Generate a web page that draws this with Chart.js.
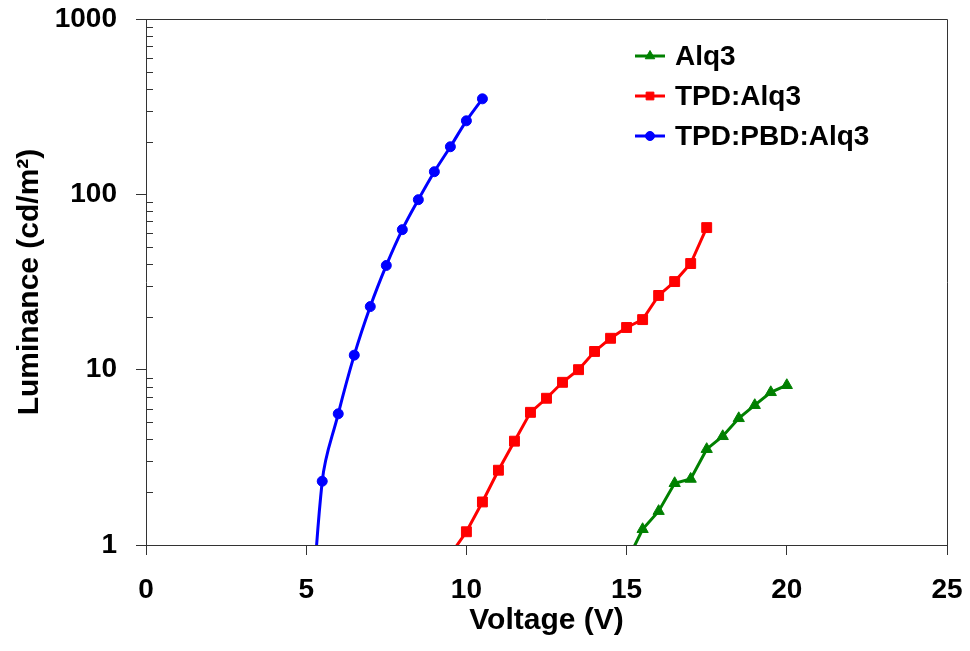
<!DOCTYPE html>
<html>
<head>
<meta charset="utf-8">
<script src="https://cdn.jsdelivr.net/npm/chart.js@4.4.0/dist/chart.umd.min.js"></script>
<style>
html, body { margin: 0; padding: 0; background: #fff; }
#wrap { width: 970px; height: 651px; position: relative; }
</style>
</head>
<body>
<div id="wrap"><canvas id="Grafica"></canvas></div>
<script>
// values (points below 1 cd/m2 are hidden under the axis)
const voltAlq3 = [15.0, 15.5, 16.0, 16.5, 17.0, 17.5, 18.0, 18.5, 19.0, 19.5, 20.0];
const lumAlq3  = [0.8, 1.23, 1.56, 2.25, 2.38, 3.52, 4.17, 5.28, 6.27, 7.43, 8.15];

const voltTpd = [9.5, 10.0, 10.5, 11.0, 11.5, 12.0, 12.5, 13.0, 13.5, 14.0, 14.5, 15.0, 15.5, 16.0, 16.5, 17.0, 17.5];
const lumTpd  = [0.88, 1.19, 1.76, 2.67, 3.91, 5.71, 6.87, 8.47, 10.0, 12.7, 15.1, 17.4, 19.3, 26.5, 31.8, 40.3, 64.6];

const voltPbd = [5.0, 5.5, 6.0, 6.5, 7.0, 7.5, 8.0, 8.5, 9.0, 9.5, 10.0, 10.5];
const lumPbd  = [0.1, 2.31, 5.6, 12.1, 22.9, 39.3, 62.9, 93.2, 134.6, 186.8, 262.6, 350.5];

const xTicks = [0, 5, 10, 15, 20, 25];
const yTicks = [1, 10, 100, 1000];
const yMinor = [2, 3, 4, 5, 6, 7, 8, 9];

const fontFam = '"Liberation Sans", Arial, sans-serif';
const axisColor = '#333';

function pts(xs, ys) {
    return xs.map(function(v, i){ return {x: v, y: ys[i]}; });
}

const series = [
    {label: 'Alq3', color: '#008000', style: 'triangle', r: 6.5, legR: 5.5, data: pts(voltAlq3, lumAlq3), tension: 0},
    {label: 'TPD:Alq3', color: '#FF0000', style: 'rect', r: 7, legR: 5.5, data: pts(voltTpd, lumTpd), tension: 0},
    {label: 'TPD:PBD:Alq3', color: '#0000FF', style: 'circle', r: 5, legR: 4.5, data: pts(voltPbd, lumPbd), tension: 0.4}
];

const extras = {
    id: 'extras',
    afterDraw(chart) {
        const ctx = chart.ctx;
        const a = chart.chartArea;
        const y = chart.scales.y;
        ctx.save();
        ctx.strokeStyle = axisColor;
        ctx.lineWidth = 1;
        ctx.beginPath();
        for (let d = 1; d < 1000; d *= 10) {
            yMinor.forEach(function(k){
                const py = Math.round(y.getPixelForValue(d * k)) + 0.5;
                ctx.moveTo(a.left, py);
                ctx.lineTo(a.left + 7, py);
            });
        }
        ctx.moveTo(a.left, Math.round(a.top) + 0.5);
        ctx.lineTo(Math.round(a.right) + 0.5, Math.round(a.top) + 0.5);
        ctx.lineTo(Math.round(a.right) + 0.5, a.bottom);
        ctx.stroke();

        // legend
        ctx.font = 'bold 28px ' + fontFam;
        ctx.textBaseline = 'middle';
        ctx.textAlign = 'left';
        series.forEach(function(s, i){
            const ly = 56 + i * 40;
            ctx.strokeStyle = s.color;
            ctx.fillStyle = s.color;
            ctx.lineWidth = 3;
            ctx.beginPath();
            ctx.moveTo(635, ly);
            ctx.lineTo(665, ly);
            ctx.stroke();
            ctx.lineWidth = 1;
            Chart.helpers.drawPoint(ctx, {pointStyle: s.style, radius: s.legR, rotation: 0, borderWidth: 1}, 650, ly);
            ctx.fillStyle = '#000';
            ctx.fillText(s.label, 675, ly + 1);
        });
        ctx.restore();
    }
};

const ctx = document.getElementById('Grafica').getContext('2d');
const grafica = new Chart(ctx, {
    type: 'line',
    data: {
        datasets: series.map(function(s){
            return {
                label: s.label,
                data: s.data,
                borderColor: s.color,
                backgroundColor: s.color,
                borderWidth: 3,
                pointStyle: s.style,
                pointRadius: s.r,
                pointHoverRadius: s.r,
                pointBorderWidth: 1,
                tension: s.tension,
                fill: false
            };
        })
    },
    options: {
        responsive: true,
        maintainAspectRatio: false,
        animation: false,
        layout: { padding: {top: 19, right: 23, left: 0, bottom: 0} },
        elements: { line: { capBezierPoints: false } },
        plugins: {
            legend: { display: false },
            tooltip: { enabled: false }
        },
        scales: {
            x: {
                type: 'linear',
                min: 0,
                max: 25,
                afterBuildTicks: function(scale){ scale.ticks = xTicks.map(function(v){ return {value: v}; }); },
                afterFit: function(scale){ scale.height = 106; scale.paddingLeft = 0; scale.paddingRight = 0; },
                grid: { drawOnChartArea: false, drawTicks: true, tickLength: 10, color: axisColor, lineWidth: 1 },
                border: { display: true, color: axisColor, width: 1 },
                ticks: { color: '#000', padding: 18, maxRotation: 0, font: {family: fontFam, size: 28, weight: 'bold'} },
                title: { display: true, text: 'Voltage (V)', color: '#000', padding: {top: 0, bottom: 12}, font: {family: fontFam, size: 30, weight: 'bold'} }
            },
            y: {
                type: 'logarithmic',
                min: 1,
                max: 1000,
                afterBuildTicks: function(scale){ scale.ticks = yTicks.map(function(v){ return {value: v}; }); },
                afterFit: function(scale){ scale.width = 146; scale.paddingTop = 0; scale.paddingBottom = 0; },
                grid: { drawOnChartArea: false, drawTicks: true, tickLength: 10, color: axisColor, lineWidth: 1 },
                border: { display: true, color: axisColor, width: 1 },
                ticks: { color: '#000', padding: 19, callback: function(v){ return String(v); }, font: {family: fontFam, size: 28, weight: 'bold'} },
                title: { display: true, text: 'Luminance (cd/m²)', color: '#000', padding: {top: 12, bottom: 0}, font: {family: fontFam, size: 30, weight: 'bold'} }
            }
        }
    },
    plugins: [extras]
});
</script>
</body>
</html>
